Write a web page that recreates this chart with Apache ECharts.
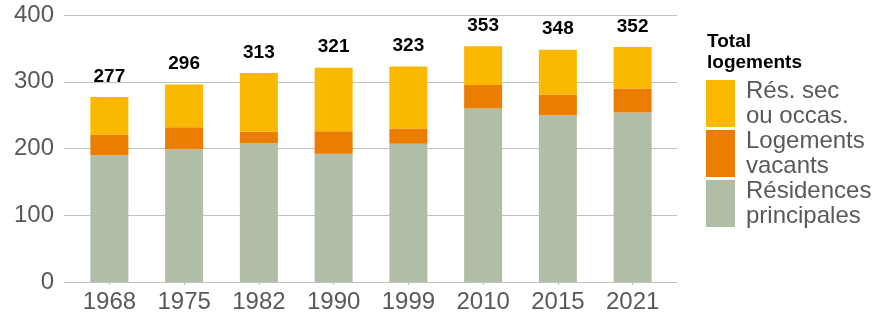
<!DOCTYPE html>
<html>
<head>
<meta charset="utf-8">
<script src="https://cdn.jsdelivr.net/npm/echarts@6/dist/echarts.min.js"></script>
<style>
  html, body { margin: 0; padding: 0; background: #fff; }
  #chart { width: 887px; height: 320px; }
</style>
</head>
<body>
<div id="chart"></div>
<script>
// Census years
const years = ['1968', '1975', '1982', '1990', '1999', '2010', '2015', '2021'];
// Total dwellings per year
const totals = [277, 296, 313, 321, 323, 353, 348, 352];
// Main residences
const principales = [190, 199, 208, 192, 207, 260, 250, 254];
// Vacant dwellings
const vacants = [31, 33, 17, 34, 23, 35, 31, 36];
// Secondary / occasional residences (remainder of the total)
const secondaires = totals.map((t, i) => t - principales[i] - vacants[i]);
// Value-axis ticks
const yTicks = [0, 100, 200, 300, 400];

const FONT = 'Liberation Sans, Arial, sans-serif';
const GREY_TEXT = '#595959';
const GRID_LINE = '#c0c0c0';

const legendNames = {
  'Rés. sec ou occas.': 'Rés. sec\nou occas.',
  'Logements vacants': 'Logements\nvacants',
  'Résidences principales': 'Résidences\nprincipales'
};

const chart = echarts.init(document.getElementById('chart'), null, { renderer: 'canvas' });

chart.setOption({
  animation: false,
  textStyle: { fontFamily: FONT },
  title: {
    text: 'Total\nlogements',
    left: 707,
    top: 31,
    padding: 0,
    textStyle: { fontFamily: FONT, fontSize: 19, fontWeight: 'bold', color: '#000', lineHeight: 21 }
  },
  legend: {
    orient: 'vertical',
    left: 706,
    top: 78.5,
    padding: 0,
    itemWidth: 29,
    itemHeight: 47,
    itemGap: 0,
    icon: 'rect',
    selectedMode: false,
    data: ['Rés. sec ou occas.', 'Logements vacants', 'Résidences principales'],
    formatter: name => legendNames[name],
    textStyle: { fontFamily: FONT, fontSize: 24, lineHeight: 25, color: GREY_TEXT, padding: [0, 0, 0, 6] }
  },
  grid: [
    // full-width grid carrying the horizontal gridlines and value labels
    { left: 64, right: 210, top: 15, bottom: 38 },
    // inner grid carrying the bars
    { left: 72, right: 217, top: 15, bottom: 38 }
  ],
  xAxis: [
    { type: 'value', gridIndex: 0, show: false, min: 0, max: 1 },
    {
      type: 'category', gridIndex: 1, data: years,
      axisLine: { show: false },
      axisTick: { show: true, alignWithLabel: true, length: 3, lineStyle: { color: GRID_LINE } },
      axisLabel: { color: GREY_TEXT, fontSize: 24, fontFamily: FONT, margin: 8 }
    }
  ],
  yAxis: [
    {
      type: 'value', gridIndex: 0, min: yTicks[0], max: yTicks[yTicks.length - 1], interval: 100,
      axisLine: { show: false }, axisTick: { show: false },
      axisLabel: { color: GREY_TEXT, fontSize: 24, fontFamily: FONT, margin: 10 },
      splitLine: { show: true, lineStyle: { color: GRID_LINE, width: 1 } }
    },
    {
      type: 'value', gridIndex: 1, min: yTicks[0], max: yTicks[yTicks.length - 1], interval: 100,
      show: false, splitLine: { show: false }
    }
  ],
  series: [
    {
      name: 'Résidences principales', type: 'bar', stack: 'log',
      xAxisIndex: 1, yAxisIndex: 1, barWidth: 38,
      itemStyle: { color: '#b0bea7' },
      data: principales
    },
    {
      name: 'Logements vacants', type: 'bar', stack: 'log',
      xAxisIndex: 1, yAxisIndex: 1, barWidth: 38,
      itemStyle: { color: '#eb7e00' },
      data: vacants
    },
    {
      name: 'Rés. sec ou occas.', type: 'bar', stack: 'log',
      xAxisIndex: 1, yAxisIndex: 1, barWidth: 38,
      itemStyle: { color: '#fbb800' },
      label: {
        show: true, position: 'top', distance: 11,
        formatter: p => String(totals[p.dataIndex]),
        color: '#000', fontSize: 19, fontWeight: 'bold', fontFamily: FONT
      },
      data: secondaires
    }
  ]
});
</script>
</body>
</html>
